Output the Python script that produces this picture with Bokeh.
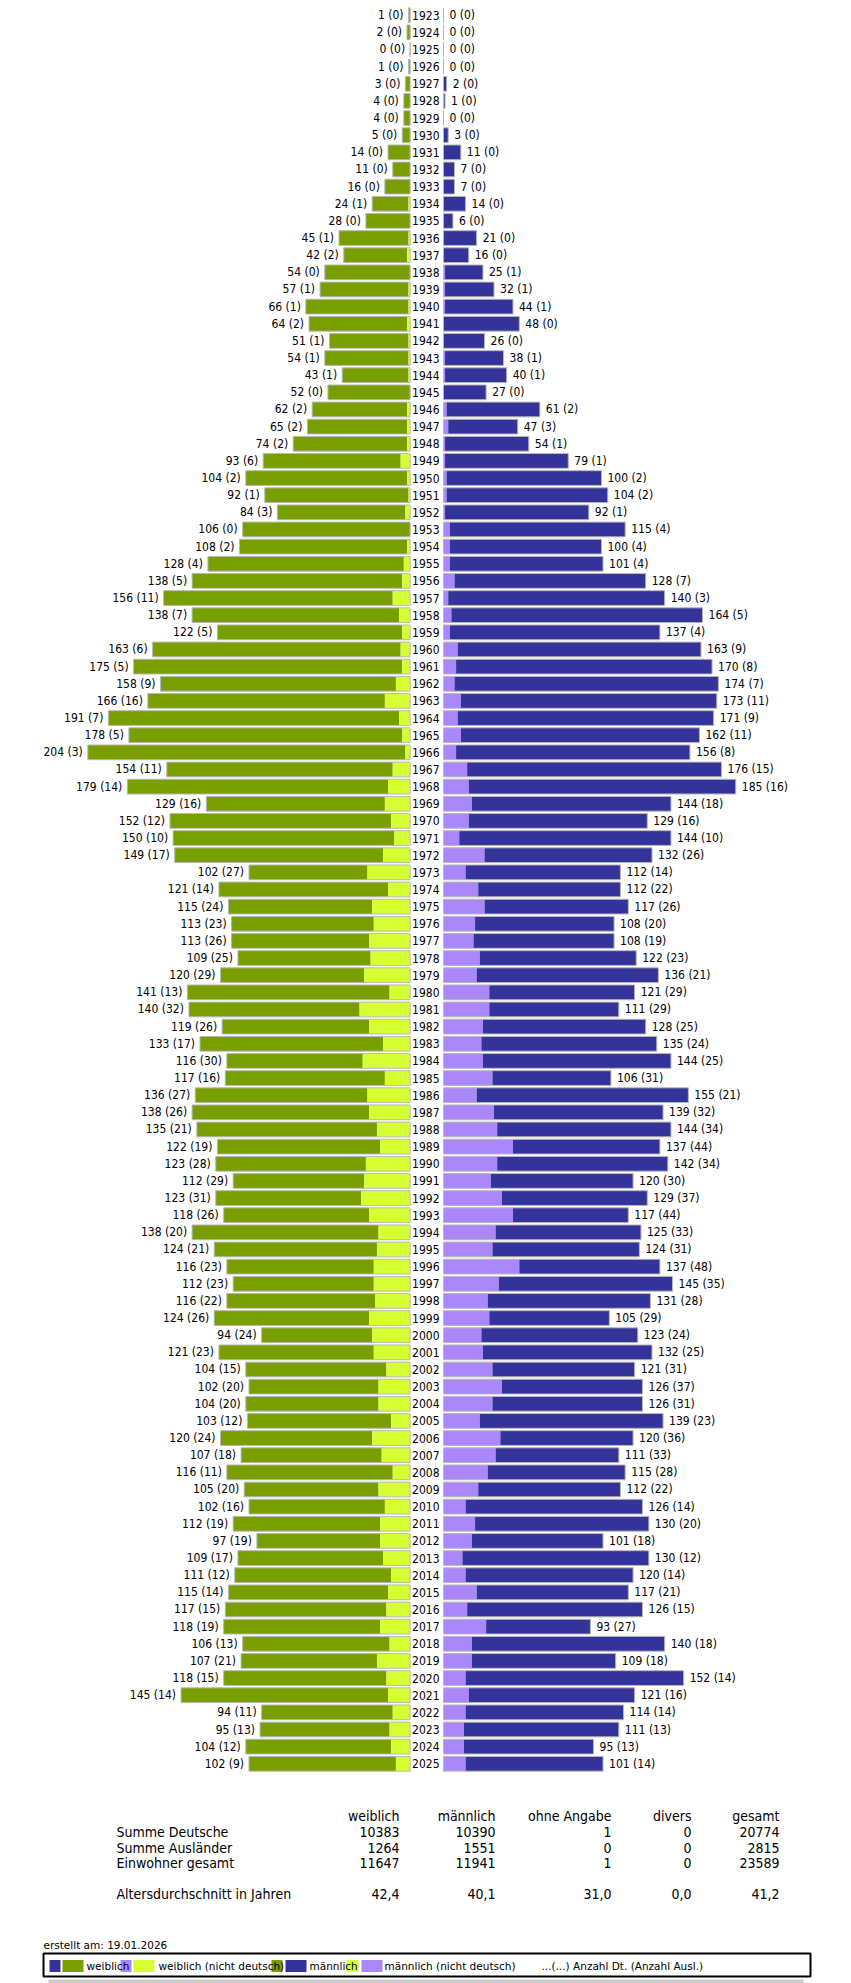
from bokeh.plotting import figure
from bokeh.layouts import column
from bokeh.models import ColumnDataSource, Range1d
from bokeh.core.properties import value
from bokeh.embed import file_html
from bokeh.resources import INLINE

# ---------------- data ----------------
years = list(range(1923, 2026))

# weiblich: Anzahl Dt. / Anzahl Ausl.
w_dt = [1, 2, 0, 1, 3, 4, 4, 5,
        14, 11, 16, 24, 28, 45, 42, 54, 57, 66,
        64, 51, 54, 43, 52, 62, 65, 74, 93, 104,
        92, 84, 106, 108, 128, 138, 156, 138, 122, 163,
        175, 158, 166, 191, 178, 204, 154, 179, 129, 152,
        150, 149, 102, 121, 115, 113, 113, 109, 120, 141,
        140, 119, 133, 116, 117, 136, 138, 135, 122, 123,
        112, 123, 118, 138, 124, 116, 112, 116, 124, 94,
        121, 104, 102, 104, 103, 120, 107, 116, 105, 102,
        112, 97, 109, 111, 115, 117, 118, 106, 107, 118,
        145, 94, 95, 104, 102]
w_ausl = [0, 0, 0, 0, 0, 0, 0, 0,
          0, 0, 0, 1, 0, 1, 2, 0, 1, 1,
          2, 1, 1, 1, 0, 2, 2, 2, 6, 2,
          1, 3, 0, 2, 4, 5, 11, 7, 5, 6,
          5, 9, 16, 7, 5, 3, 11, 14, 16, 12,
          10, 17, 27, 14, 24, 23, 26, 25, 29, 13,
          32, 26, 17, 30, 16, 27, 26, 21, 19, 28,
          29, 31, 26, 20, 21, 23, 23, 22, 26, 24,
          23, 15, 20, 20, 12, 24, 18, 11, 20, 16,
          19, 19, 17, 12, 14, 15, 19, 13, 21, 15,
          14, 11, 13, 12, 9]

# männlich
m_dt = [0, 0, 0, 0, 2, 1, 0, 3,
        11, 7, 7, 14, 6, 21, 16, 25, 32, 44,
        48, 26, 38, 40, 27, 61, 47, 54, 79, 100,
        104, 92, 115, 100, 101, 128, 140, 164, 137, 163,
        170, 174, 173, 171, 162, 156, 176, 185, 144, 129,
        144, 132, 112, 112, 117, 108, 108, 122, 136, 121,
        111, 128, 135, 144, 106, 155, 139, 144, 137, 142,
        120, 129, 117, 125, 124, 137, 145, 131, 105, 123,
        132, 121, 126, 126, 139, 120, 111, 115, 112, 126,
        130, 101, 130, 120, 117, 126, 93, 140, 109, 152,
        121, 114, 111, 95, 101]
m_ausl = [0, 0, 0, 0, 0, 0, 0, 0,
          0, 0, 0, 0, 0, 0, 0, 1, 1, 1,
          0, 0, 1, 1, 0, 2, 3, 1, 1, 2,
          2, 1, 4, 4, 4, 7, 3, 5, 4, 9,
          8, 7, 11, 9, 11, 8, 15, 16, 18, 16,
          10, 26, 14, 22, 26, 20, 19, 23, 21, 29,
          29, 25, 24, 25, 31, 21, 32, 34, 44, 34,
          30, 37, 44, 33, 31, 48, 35, 28, 29, 24,
          25, 31, 37, 31, 23, 36, 33, 28, 22, 14,
          20, 18, 12, 14, 21, 15, 27, 18, 18, 14,
          16, 14, 13, 13, 14]

table_cols = ["weiblich", "männlich", "ohne Angabe", "divers", "gesamt"]
row_names = ["Summe Deutsche", "Summe Ausländer", "Einwohner gesamt"]
summe_deutsche = [10383, 10390, 1, 0, 20774]
summe_auslaender = [1264, 1551, 0, 0, 2815]
einwohner_gesamt = [11647, 11941, 1, 0, 23589]
alter_label = "Altersdurchschnitt in Jahren"
altersdurchschnitt = ["42,4", "40,1", "31,0", "0,0", "41,2"]
erstellt = "erstellt am: 19.01.2026"

legend_labels = ["weiblich", "weiblich (nicht deutsch)", "männlich",
                 "männlich (nicht deutsch)", "...(...) Anzahl Dt. (Anzahl Ausl.)"]

# ---------------- style ----------------
C_W = "#789e00"
C_W_AUS = "#d6ff33"
C_M = "#333399"
C_M_AUS = "#aa88fa"
FONT_C = value("DejaVu Sans Condensed")
FONT = value("DejaVu Sans")

W = 851
H_TOP = 1790
H_BOT = 1983 - H_TOP

PX = 1.58          # pixel per person
CENTER = 426.3     # pixel of the centre axis
GAP = 10.55        # half gap (persons units) for year labels
ROW = 17.143       # px per row
Y0 = 14.7          # px of first row centre

# ---------------- pyramid ----------------
y_top = years[0] - Y0 / ROW
y_bot = years[0] + (H_TOP - Y0) / ROW
p = figure(width=W, height=H_TOP, output_backend="svg", toolbar_location=None,
           x_range=Range1d(-CENTER / PX, (W - CENTER) / PX),
           y_range=Range1d(y_bot, y_top),
           x_axis_location=None, y_axis_location=None, min_border=0,
           title=None)
p.grid.visible = False
p.outline_line_color = None
p.background_fill_color = "white"
p.border_fill_color = "white"

src = ColumnDataSource(dict(
    y=years,
    wl=[-(GAP + v) for v in w_dt],
    wm=[-(GAP + a) for a in w_ausl],
    wr=[-GAP] * len(years),
    ml=[GAP] * len(years),
    mm=[GAP + a for a in m_ausl],
    mr=[GAP + v for v in m_dt],
    wlab=[f"{v} ({a})" for v, a in zip(w_dt, w_ausl)],
    mlab=[f"{v} ({a})" for v, a in zip(m_dt, m_ausl)],
    ylab=[str(y) for y in years],
    zero=[0] * len(years),
))
BH = 0.86
# female
p.hbar(y="y", left="wl", right="wm", height=BH, source=src,
       fill_color=C_W, line_color=None)
p.hbar(y="y", left="wm", right="wr", height=BH, source=src,
       fill_color=C_W_AUS, line_color=None)
p.hbar(y="y", left="wl", right="wr", height=BH, source=src,
       fill_color=None, line_color="#b8b8b8", line_width=1)
# male
p.hbar(y="y", left="ml", right="mm", height=BH, source=src,
       fill_color=C_M_AUS, line_color=None)
p.hbar(y="y", left="mm", right="mr", height=BH, source=src,
       fill_color=C_M, line_color=None)
p.hbar(y="y", left="ml", right="mr", height=BH, source=src,
       fill_color=None, line_color="#b8b8b8", line_width=1)

p.text(x="wl", y="y", text="wlab", source=src, x_offset=-5,
       text_align="right", text_baseline="middle",
       text_font=FONT_C, text_font_size="12px", text_color="black")
p.text(x="mr", y="y", text="mlab", source=src, x_offset=6,
       text_align="left", text_baseline="middle",
       text_font=FONT_C, text_font_size="12px", text_color="black")
p.text(x="zero", y="y", text="ylab", source=src, x_offset=-1,
       text_align="center", text_baseline="middle",
       text_font=FONT_C, text_font_size="12px", text_color="black")

# ---------------- summary + legend ----------------
q = figure(width=W, height=H_BOT, output_backend="svg", toolbar_location=None,
           x_range=Range1d(0, W), y_range=Range1d(H_BOT, 0),
           x_axis_location=None, y_axis_location=None, min_border=0,
           title=None)
q.grid.visible = False
q.outline_line_color = None
q.background_fill_color = "white"
q.border_fill_color = "white"

off = H_TOP
col_x = [399, 495, 611, 691, 779]
label_x = 116
q.text(x=col_x, y=[1815 - off] * 5, text=table_cols, text_align="right",
       text_baseline="middle", text_font=FONT_C, text_font_size="14px")
rows = [summe_deutsche, summe_auslaender, einwohner_gesamt]
rows_y = [1831, 1847, 1862]
for name, vals, yy in zip(row_names, rows, rows_y):
    q.text(x=[label_x], y=[yy - off], text=[name], text_align="left",
           text_baseline="middle", text_font=FONT_C, text_font_size="14px")
    q.text(x=col_x, y=[yy - off] * 5, text=[str(v) for v in vals],
           text_align="right", text_baseline="middle",
           text_font=FONT_C, text_font_size="14px")
q.text(x=[label_x], y=[1893 - off], text=[alter_label], text_align="left",
       text_baseline="middle", text_font=FONT_C, text_font_size="14px")
q.text(x=col_x, y=[1893 - off] * 5, text=altersdurchschnitt,
       text_align="right", text_baseline="middle",
       text_font=FONT_C, text_font_size="14px")

q.text(x=[43], y=[1944 - off], text=[erstellt], text_align="left",
       text_baseline="middle", text_font=FONT, text_font_size="10.5px")

# legend frame and shadow
q.quad(left=[48], right=[803], top=[1979 - off], bottom=[1983 - off],
       fill_color="#cccccc", line_color=None)
q.quad(left=[43], right=[810], top=[1953 - off], bottom=[1976 - off],
       fill_color="white", line_color="black", line_width=2)

sq_top = 1959.5 - off
sq_bot = 1971.5 - off
sq_left = [49, 62, 120, 133, 271, 285, 346, 361]
sq_right = [60, 83, 131, 154, 282, 306, 358, 382]
sq_col = [C_M, C_W, C_M_AUS, C_W_AUS, C_W, C_M, C_W_AUS, C_M_AUS]
q.quad(left=sq_left, right=sq_right, top=[sq_top] * 8, bottom=[sq_bot] * 8,
       fill_color=sq_col, line_color=None)
q.text(x=[86, 158, 309, 384, 541], y=[1965.5 - off] * 5, text=legend_labels,
       text_align="left", text_baseline="middle", text_font=FONT,
       text_font_size="10.5px")

layout = column(p, q, spacing=0)
open("out.html", "w").write(file_html(layout, INLINE))
